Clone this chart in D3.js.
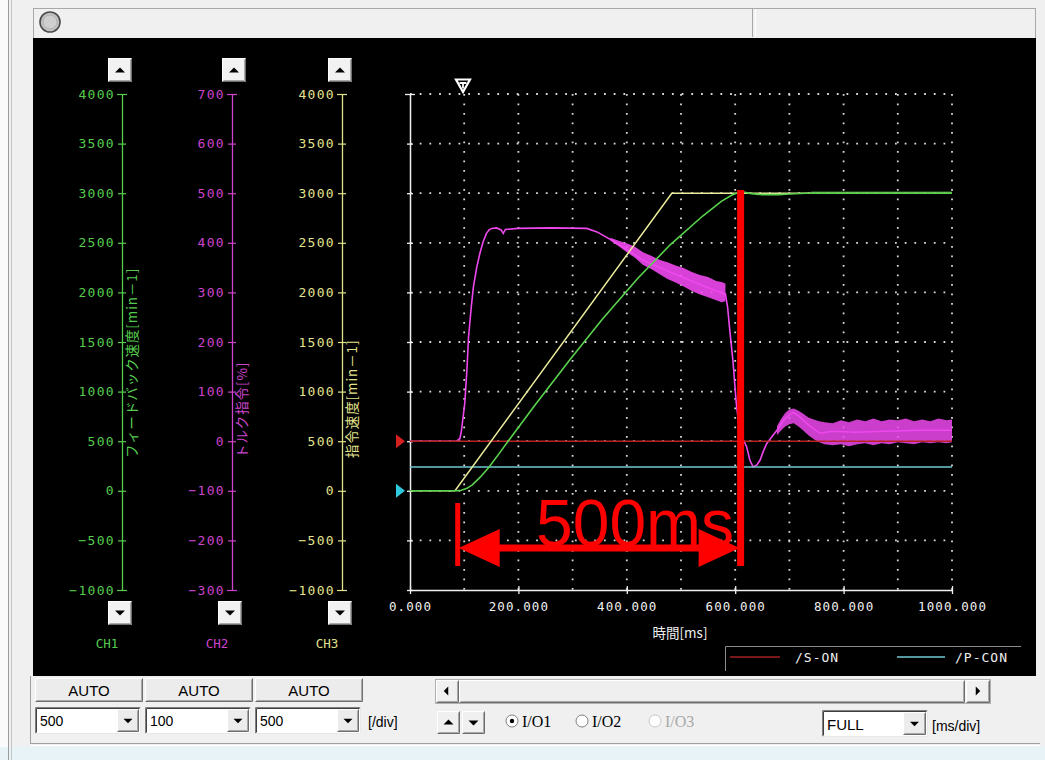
<!DOCTYPE html>
<html><head><meta charset="utf-8">
<script src="https://cdn.jsdelivr.net/npm/d3@7"></script>
<style>
html,body{margin:0;padding:0;background:#f0f0f0;overflow:hidden}
svg{display:block}
</style></head><body>
<svg id="c" width="1045" height="760"></svg>
<script>
// ---------------- data ----------------
const timeTicks = [0, 200, 400, 600, 800, 1000];
const timeGrid = [100, 200, 300, 400, 500, 600, 700, 800, 900, 1000];
const speedTicks = [-1000, -500, 0, 500, 1000, 1500, 2000, 2500, 3000, 3500, 4000];
const torqueTicks = [-300, -200, -100, 0, 100, 200, 300, 400, 500, 600, 700];
const channelNames = ["CH1", "CH2", "CH3"];
const axisTitles = ["フィードバック速度[min－1]", "トルク指令[%]", "指令速度[min－1]"];
const ioNames = ["/S-ON", "/P-CON"];
const scaleSettings = ["500", "100", "500"];
const timeSetting = "FULL";

// command speed [ms, min-1]
const cmdSpeed = [[0,0],[83,0],[483,3000],[1000,3000]];
// feedback speed [ms, min-1]
const fbSpeed = [[0,0],[86,0],[95,5],[105,25],[115,60],[130,140],[146,240],[165,380],[181,500],
  [230,860],[295,1320],[354,1724],[420,2140],[480,2480],[540,2770],[575,2920],[595,2985],
  [605,3005],[615,3012],[630,2996],[650,2986],[680,2986],[700,2992],[730,3000],[1000,3000]];
// torque command [ms, %]
const torque = [[0,0],[86,0],[92,5],[95,22],[101,76],[105,143],[108,210],[113,270],[117,311],
  [123,350],[129,379],[135,402],[141,419],[146,426],[151,429],[160,430],[168,426],[172,419],
  [176,427],[200,429],[260,430],[326,429],[345,422],[363,411],[394,391],[430,365],[486,338],
  [547,311],[578,298],[582,297],[586,270],[590,224],[596,160],[602,76],[606,40],[610,15],
  [621,-11],[627,-38],[633,-52],[640,-48],[646,-38],[652,-20],[658,-5],[667,8],[677,22],
  [689,42],[698,52],[707,58],[718,50],[732,36],[745,25],[756,16],[780,20],[820,18],
  [880,20],[940,22],[1000,22]];
// torque noise envelope, decreasing section [ms, low %, high %]
const torqueBand = [[370,404,410],[385,393,404],[400,381,399],[415,370,392],[430,355,381],
  [445,347,374],[460,337,366],[475,327,361],[490,320,354],[505,312,349],[520,303,341],
  [535,296,335],[550,290,331],[565,284,323],[575,280,321],[582,282,318]];
// torque noise envelope, settling section [ms, low %, high %]
const torqueBand2 = [[677,12,30],[685,22,46],[693,30,58],[700,34,64],[708,36,66],[716,30,62],
  [725,22,56],[735,12,48],[745,4,44],[755,-2,40],[765,-6,38],[780,-8,36],[795,-6,42],
  [810,-10,38],[825,-6,44],[840,-4,40],[855,-8,46],[870,-4,40],[885,-6,44],[900,-2,42],
  [915,-4,46],[930,-6,40],[945,-2,44],[960,-4,40],[975,-2,46],[990,-4,42],[1000,-2,44]];
// feedback noise envelope
const fbBand = [[740,2992,3016],[1000,2992,3018]];
// I/O signal levels (drawn on speed scale)
const sOnLevel = 500;
const pConLevel = 240;
// annotation
const annStart = 88, annEnd = 610, annLabel = "500ms";

// ---------------- scales ----------------
const svg = d3.select("#c");
const x = d3.scaleLinear().domain([0, 1000]).range([410, 952]);
const ySpeed = d3.scaleLinear().domain([-1000, 4000]).range([590, 94]);
const yTorque = d3.scaleLinear().domain([-300, 700]).range([590, 94]);

const GREEN = "#55cc4e", MAG = "#cc44cc", YEL = "#e2e28c";
const TRACE_MAG = "#ee48ee", TRACE_YEL = "#ecec9c", TRACE_GRN = "#5ad24e";
const MONO = "'DejaVu Sans Mono', monospace";
const UI = "'Liberation Sans', Arial, sans-serif";

// ---------------- window chrome ----------------
svg.append("rect").attr("width",1045).attr("height",760).attr("fill","#f0f0f0");
svg.append("rect").attr("x",0).attr("y",0).attr("width",8).attr("height",760).attr("fill","#fafafa");
svg.append("rect").attr("x",0).attr("y",747).attr("width",1045).attr("height",13).attr("fill","#e8f3f7");
svg.append("line").attr("x1",8.5).attr("x2",8.5).attr("y1",0).attr("y2",760).attr("stroke","#9a9a9a");
svg.append("line").attr("x1",11.5).attr("x2",11.5).attr("y1",0).attr("y2",760).attr("stroke","#c4c4c4");
// top status
svg.append("rect").attr("x",33.5).attr("y",8.5).attr("width",1002).attr("height",30).attr("fill","#f0f0f0").attr("stroke","#a8a8a8");
svg.append("line").attr("x1",752.5).attr("x2",752.5).attr("y1",9).attr("y2",37).attr("stroke","#a8a8a8");
svg.append("line").attr("x1",755.5).attr("x2",755.5).attr("y1",9).attr("y2",37).attr("stroke","#ffffff");
svg.append("circle").attr("cx",50).attr("cy",22).attr("r",10).attr("fill","#c4c4c4").attr("stroke","#4a4a4a").attr("stroke-width",1.6);
svg.append("circle").attr("cx",50).attr("cy",22).attr("r",7).attr("fill","#cfcfcf").attr("stroke","#b0b0b0");
// black panel
svg.append("rect").attr("x",33).attr("y",38).attr("width",1003).attr("height",638).attr("fill","#000");
// bottom frame
svg.append("line").attr("x1",30.5).attr("x2",30.5).attr("y1",676).attr("y2",744).attr("stroke","#a0a0a0");
svg.append("line").attr("x1",30).attr("x2",1040).attr("y1",743.5).attr("y2",743.5).attr("stroke","#a0a0a0");
svg.append("line").attr("x1",30).attr("x2",1040).attr("y1",745.5).attr("y2",745.5).attr("stroke","#ffffff");

function raised(x0, y0, w, h, fill) {
  const g = svg.append("g");
  g.append("rect").attr("x",x0).attr("y",y0).attr("width",w).attr("height",h).attr("fill",fill||"#ececec");
  g.append("path").attr("d",`M${x0+0.5},${y0+h-0.5}V${y0+0.5}H${x0+w-0.5}`).attr("stroke","#ffffff").attr("fill","none");
  g.append("path").attr("d",`M${x0+0.5},${y0+h-0.5}H${x0+w-0.5}V${y0+0.5}`).attr("stroke","#6e6e6e").attr("fill","none");
  g.append("path").attr("d",`M${x0+1.5},${y0+h-1.5}H${x0+w-1.5}V${y0+1.5}`).attr("stroke","#a8a8a8").attr("fill","none");
  return g;
}
function sunken(x0, y0, w, h) {
  const g = svg.append("g");
  g.append("rect").attr("x",x0).attr("y",y0).attr("width",w).attr("height",h).attr("fill","#ffffff");
  g.append("path").attr("d",`M${x0+0.5},${y0+h-0.5}V${y0+0.5}H${x0+w-0.5}`).attr("stroke","#808080").attr("fill","none");
  g.append("path").attr("d",`M${x0+1.5},${y0+h-1.5}V${y0+1.5}H${x0+w-1.5}`).attr("stroke","#404040").attr("fill","none");
  g.append("path").attr("d",`M${x0+0.5},${y0+h-0.5}H${x0+w-0.5}V${y0+0.5}`).attr("stroke","#e8e8e8").attr("fill","none");
  return g;
}
function tri(g, cx, cy, dir, size, color) {
  const s = size || 5;
  const d = dir === "up" ? `M${cx-s},${cy+s/2}L${cx+s},${cy+s/2}L${cx},${cy-s/2}Z`
          : dir === "down" ? `M${cx-s},${cy-s/2}L${cx+s},${cy-s/2}L${cx},${cy+s/2}Z`
          : dir === "left" ? `M${cx+s/2},${cy-s}L${cx+s/2},${cy+s}L${cx-s/2},${cy}Z`
          : `M${cx-s/2},${cy-s}L${cx-s/2},${cy+s}L${cx+s/2},${cy}Z`;
  g.append("path").attr("d",d).attr("fill",color||"#000");
}

// ---------------- channel axes ----------------
const axX = [122, 232, 342];
const axScales = [ySpeed, yTorque, ySpeed];
const axTicks = [speedTicks, torqueTicks, speedTicks];
const axColors = [GREEN, MAG, YEL];
const upBtnX = [108, 222, 328];
const dnBtnX = [108, 218, 328];
const chX = [107, 217, 327];

axX.forEach((ax, i) => {
  const g = svg.append("g").attr("transform", `translate(${ax},0)`)
    .call(d3.axisLeft(axScales[i]).tickValues(axTicks[i]).tickSize(4).tickSizeOuter(0).tickPadding(3));
  g.select(".domain").attr("stroke", axColors[i]).attr("stroke-width", 1.3);
  g.selectAll(".tick line").attr("stroke", axColors[i]).attr("x1", 4).attr("stroke-width", 1.2);
  const ends = [axTicks[i][0], axTicks[i][axTicks[i].length - 1]];
  g.selectAll(".tick line").filter(d => ends.includes(d)).attr("x1", 5).attr("x2", -5);
  g.selectAll(".tick text").attr("fill", axColors[i]).style("font-family", MONO)
    .style("font-size", "13px").style("letter-spacing", "1.3px").text(d => d < 0 ? "−" + Math.abs(d) : d);
  svg.append("text").attr("transform", `translate(${ax + 15},458) rotate(-90)`)
    .attr("fill", axColors[i]).style("font-family", "'Noto Sans CJK JP', sans-serif")
    .style("font-size", "13.5px").style("letter-spacing", "0.9px").text(axisTitles[i]);
  const ub = raised(upBtnX[i], 58, 24, 24, "#f2f2f2");
  tri(ub, upBtnX[i] + 12, 70, "up", 5);
  const db = raised(dnBtnX[i], 601, 24, 24, "#f2f2f2");
  tri(db, dnBtnX[i] + 12, 613, "down", 5);
  svg.append("text").attr("x", chX[i]).attr("y", 648).attr("text-anchor", "middle")
    .attr("fill", axColors[i]).style("font-family", MONO).style("font-size", "12.5px").text(channelNames[i]);
});

// ---------------- plot grid ----------------
const grid = svg.append("g");
speedTicks.filter(v => v > -1000).forEach(v => {
  grid.append("line").attr("x1", x(0)).attr("x2", x(1000)).attr("y1", ySpeed(v)).attr("y2", ySpeed(v))
    .attr("stroke", "#d8d8d8").attr("stroke-width", 1.8).attr("stroke-dasharray", "1.8,7.9");
});
timeGrid.forEach(t => {
  grid.append("line").attr("x1", x(t)).attr("x2", x(t)).attr("y1", ySpeed(4000)).attr("y2", ySpeed(-1000))
    .attr("stroke", "#d8d8d8").attr("stroke-width", 1.8).attr("stroke-dasharray", "1.8,7.7");
});

// plot axes
const yAx = svg.append("g").attr("transform", `translate(${x(0)},0)`)
  .call(d3.axisLeft(ySpeed).tickValues(speedTicks).tickSize(3).tickSizeOuter(0).tickFormat(""));
yAx.select(".domain").attr("stroke", "#f0f0f0").attr("stroke-width", 1.5);
yAx.selectAll(".tick line").attr("stroke", "#f0f0f0").attr("x1", 3).attr("stroke-width", 1.3);
yAx.selectAll(".tick line").filter(d => d === 4000).attr("x1", 5).attr("x2", -5);

const xAx = svg.append("g").attr("transform", `translate(0,${ySpeed(-1000)})`)
  .call(d3.axisBottom(x).tickValues(timeTicks).tickSize(4).tickSizeOuter(0).tickPadding(8)
    .tickFormat(d3.format(".3f")));
xAx.select(".domain").attr("stroke", "#f0f0f0").attr("stroke-width", 1.5);
xAx.selectAll(".tick line").attr("stroke", "#f0f0f0").attr("y1", -4).attr("stroke-width", 1.3);
xAx.selectAll(".tick text").attr("fill", "#f0f0f0").style("font-family", MONO).style("font-size", "12.5px")
  .style("letter-spacing", "1.1px");
svg.append("text").attr("x", 680).attr("y", 638).attr("text-anchor", "middle").attr("fill", "#f0f0f0")
  .style("font-family", "'Noto Sans CJK JP', sans-serif").style("font-size", "13.5px").text("時間[ms]");

// trigger marker
svg.append("path").attr("d", "M456,79.5L470,79.5L463,92Z").attr("fill", "none").attr("stroke", "#fff").attr("stroke-width", 2.2);
svg.append("path").attr("d", "M459.5,83H466.5M463,83V88.5").attr("stroke", "#fff").attr("stroke-width", 1.8);

// ---------------- traces ----------------
const lineS = d3.line().x(d => x(d[0])).y(d => ySpeed(d[1]));
const lineT = d3.line().x(d => x(d[0])).y(d => yTorque(d[1]));
const areaT = d3.area().x(d => x(d[0])).y0(d => yTorque(d[1])).y1(d => yTorque(d[2]));
const areaS = d3.area().x(d => x(d[0])).y0(d => ySpeed(d[1])).y1(d => ySpeed(d[2]));

svg.append("path").datum(torqueBand).attr("d", areaT).attr("fill", TRACE_MAG).attr("opacity", 0.9);
svg.append("path").datum(torqueBand2).attr("d", areaT).attr("fill", TRACE_MAG).attr("opacity", 0.85);
svg.append("path").datum(torque).attr("d", lineT).attr("fill", "none").attr("stroke", TRACE_MAG).attr("stroke-width", 1.6);

// I/O lines
svg.append("line").attr("x1", x(0)).attr("x2", x(1000)).attr("y1", ySpeed(sOnLevel)).attr("y2", ySpeed(sOnLevel))
  .attr("stroke", "#b82424").attr("stroke-width", 1.6);
svg.append("line").attr("x1", x(0)).attr("x2", x(1000)).attr("y1", ySpeed(pConLevel)).attr("y2", ySpeed(pConLevel))
  .attr("stroke", "#70c8d2").attr("stroke-width", 1.6);
svg.append("path").attr("d", `M396,${ySpeed(sOnLevel)-7}L405,${ySpeed(sOnLevel)}L396,${ySpeed(sOnLevel)+7}Z`).attr("fill", "#d42020");
svg.append("path").attr("d", `M396,${ySpeed(0)-7}L405,${ySpeed(0)}L396,${ySpeed(0)+7}Z`).attr("fill", "#30c8dc");

svg.append("path").datum(cmdSpeed).attr("d", lineS).attr("fill", "none").attr("stroke", TRACE_YEL).attr("stroke-width", 1.5);
svg.append("path").datum(fbBand).attr("d", areaS).attr("fill", TRACE_GRN).attr("opacity", 0.6);
svg.append("path").datum(fbSpeed).attr("d", lineS).attr("fill", "none").attr("stroke", TRACE_GRN).attr("stroke-width", 1.6);

// ---------------- legend ----------------
svg.append("path").attr("d", "M725.5,671V646.5H1021").attr("fill", "none").attr("stroke", "#8a8a8a");
svg.append("line").attr("x1", 730).attr("x2", 780).attr("y1", 657).attr("y2", 657).attr("stroke", "#a02020").attr("stroke-width", 1.5);
svg.append("text").attr("x", 795).attr("y", 662).attr("fill", "#f0f0f0").style("font-family", MONO).style("font-size", "13px").style("letter-spacing", "1px").text(ioNames[0]);
svg.append("line").attr("x1", 897).attr("x2", 945).attr("y1", 657).attr("y2", 657).attr("stroke", "#70c8d2").attr("stroke-width", 1.5);
svg.append("text").attr("x", 955).attr("y", 662).attr("fill", "#f0f0f0").style("font-family", MONO).style("font-size", "13px").style("letter-spacing", "1px").text(ioNames[1]);

// ---------------- bottom controls ----------------
[35, 145, 255].forEach((bx, i) => {
  raised(bx, 678, 108, 24, "#ececec");
  svg.append("text").attr("x", bx + 54).attr("y", 696).attr("text-anchor", "middle").attr("fill", "#000")
    .style("font-family", UI).style("font-size", "15px").text("AUTO");
  sunken(bx, 707, 106, 27);
  const b = raised(bx + 82, 709, 22, 23, "#ececec");
  tri(b, bx + 93, 721, "down", 4.5);
  svg.append("text").attr("x", bx + 5).attr("y", 726).attr("fill", "#000").style("font-family", UI)
    .style("font-size", "14px").text(scaleSettings[i]);
});
svg.append("text").attr("x", 368).attr("y", 727).attr("fill", "#000").style("font-family", UI).style("font-size", "14px").text("[/div]");

// scrollbar
svg.append("rect").attr("x", 435.5).attr("y", 679.5).attr("width", 555).attr("height", 24).attr("fill", "#f4f4f4").attr("stroke", "#b0b0b0");
raised(459, 680, 506, 23, "#efefef");
const lb = raised(436, 680, 23, 23, "#f0f0f0"); tri(lb, 446, 691, "left", 4.5);
const rb = raised(966, 680, 24, 23, "#f0f0f0"); tri(rb, 978, 691, "right", 4.5);

const ub2 = raised(437, 711, 23, 23, "#f0f0f0"); tri(ub2, 448.5, 722, "up", 5);
const db2 = raised(462, 711, 23, 23, "#f0f0f0"); tri(db2, 473.5, 723, "down", 5);

const radios = [[512, "I/O1", true, "#000"], [582, "I/O2", false, "#000"], [655, "I/O3", false, "#a8a8a8"]];
radios.forEach(r => {
  svg.append("circle").attr("cx", r[0]).attr("cy", 721).attr("r", 6).attr("fill", "#fff").attr("stroke", r[3] === "#000" ? "#808080" : "#c8c8c8");
  if (r[2]) svg.append("circle").attr("cx", r[0]).attr("cy", 721).attr("r", 2.2).attr("fill", "#000");
  svg.append("text").attr("x", r[0] + 10).attr("y", 727).attr("fill", r[3]).style("font-family", "'Liberation Serif', serif")
    .style("font-size", "16px").text(r[1]);
});

sunken(822, 710, 106, 27);
const fb2 = raised(903, 712, 23, 23, "#ececec"); tri(fb2, 914.5, 724, "down", 4.5);
svg.append("text").attr("x", 827).attr("y", 730).attr("fill", "#000").style("font-family", UI).style("font-size", "15px").text(timeSetting);
svg.append("text").attr("x", 932).attr("y", 731).attr("fill", "#000").style("font-family", UI).style("font-size", "14px").text("[ms/div]");

// ---------------- red annotation ----------------
const RED = "#ff0000";
const a0 = x(annStart), a1 = x(annEnd);
svg.append("rect").attr("x", a1 - 3.5).attr("y", 190).attr("width", 7).attr("height", 376).attr("fill", RED);
svg.append("rect").attr("x", a0 - 2.5).attr("y", 503).attr("width", 5).attr("height", 63).attr("fill", RED);
svg.append("line").attr("x1", a0 + 30).attr("x2", a1 - 30).attr("y1", 548).attr("y2", 548).attr("stroke", RED).attr("stroke-width", 7);
svg.append("path").attr("d", `M${a0 + 1},548L${a0 + 42},529L${a0 + 42},567Z`).attr("fill", RED);
svg.append("path").attr("d", `M${a1 - 1},548L${a1 - 42},529L${a1 - 42},567Z`).attr("fill", RED);
svg.append("text").attr("x", 536).attr("y", 546).attr("fill", RED).style("font-family", UI).style("font-size", "66px").text(annLabel);
</script>
</body></html>
